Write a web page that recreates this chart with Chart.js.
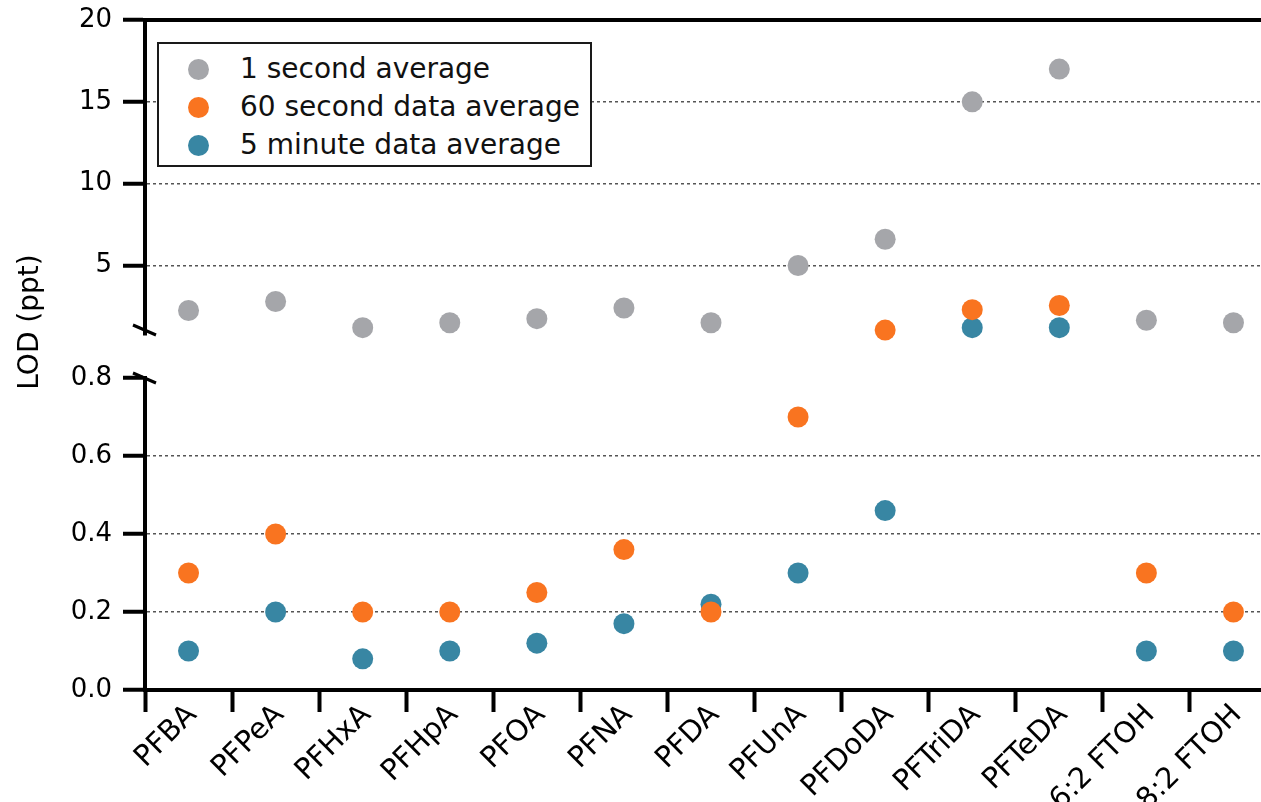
<!DOCTYPE html>
<html>
<head>
<meta charset="utf-8">
<title>LOD (ppt) by compound</title>
<script src="https://cdn.jsdelivr.net/npm/chart.js@4.4.1/dist/chart.umd.min.js"></script>
<style>
  html, body { margin: 0; padding: 0; background: #fff; overflow: hidden; }
  .wrap { position: relative; width: 1261px; height: 802px; overflow: hidden; }
  #lod-chart { position: absolute; left: 0; top: 0; }
  .legend {
    position: absolute; left: 157px; top: 42px; width: 431px; height: 121px;
    border: 2px solid #1a1a1a; background: #fff;
    font-family: 'DejaVu Sans', sans-serif; font-size: 28px; color: #111;
  }
  .legend-item { position: absolute; left: 0; height: 34px; line-height: 34px; white-space: nowrap; }
  .legend-item i { position: absolute; left: 29px; top: 6.5px; width: 21px; height: 21px; border-radius: 50%; }
  .legend-item span { position: absolute; left: 81px; top: 0; }
</style>
</head>
<body>
<div class="wrap">
  <canvas id="lod-chart" width="1277" height="802"></canvas>
  <div class="legend" id="legend"></div>
</div>
<script>
/*-------------------
 Data
 -------------------*/
const compounds = ['PFBA', 'PFPeA', 'PFHxA', 'PFHpA', 'PFOA', 'PFNA', 'PFDA', 'PFUnA', 'PFDoDA', 'PFTriDA', 'PFTeDA', '6:2 FTOH', '8:2 FTOH'];

// LOD in ppt
const oneSecond   = [2.25, 2.8, 1.2, 1.5, 1.75, 2.4, 1.5, 5.0, 6.6, 15.0, 17.0, 1.65, 1.5];
const sixtySecond = [0.30, 0.40, 0.20, 0.20, 0.25, 0.36, 0.20, 0.70, 1.05, 2.3, 2.55, 0.30, 0.20];
const fiveMinute  = [0.10, 0.20, 0.08, 0.10, 0.12, 0.17, 0.22, 0.30, 0.46, 1.2, 1.2, 0.10, 0.10];

const seriesNames = ['1 second average', '60 second data average', '5 minute data average'];

// tick labels for the two halves of the broken axis
const upperTicks = [5, 10, 15, 20];
const lowerTicks = [0, 0.2, 0.4, 0.6, 0.8];
const breakAt = 0.8;

/*-------------------
 Datasets
 -------------------*/
const series = [
  { label: seriesNames[0], values: oneSecond, color: '#a5a6aa' },
  { label: seriesNames[1], values: sixtySecond, color: '#f97420' },
  { label: seriesNames[2], values: fiveMinute, color: '#3886a3' }
];

// each series is split in two: values above the break go on the upper axis
const datasets = [];
series.forEach(s => {
  const common = {
    label: s.label,
    showLine: false,
    clip: false,
    pointRadius: 10.5,
    pointHoverRadius: 10.5,
    pointBorderWidth: 0,
    pointBackgroundColor: s.color,
    borderColor: s.color,
    backgroundColor: s.color
  };
  datasets.push({ ...common, yAxisID: 'yTop', data: s.values.map(v => v > breakAt ? v : null) });
  datasets.push({ ...common, yAxisID: 'yBot', data: s.values.map(v => v <= breakAt ? v : null) });
});

/*-------------------
 Chart
 -------------------*/
Chart.defaults.font.family = "'DejaVu Sans', sans-serif";
Chart.defaults.color = '#000';

const dotted = '#555';
const hidden = { display: false };

// little slashes where the y axis is broken
const axisBreaks = {
  id: 'axisBreaks',
  afterDraw(chart) {
    const { ctx, scales: { yTop, yBot } } = chart;
    const x = yTop.right;
    ctx.save();
    ctx.strokeStyle = '#000';
    ctx.lineWidth = 3;
    ctx.beginPath();
    ctx.moveTo(x - 12, yTop.bottom - 10);
    ctx.lineTo(x + 11, yTop.bottom);
    ctx.moveTo(x - 12, yBot.top - 5);
    ctx.lineTo(x + 11, yBot.top + 5);
    ctx.stroke();
    ctx.restore();
  }
};

const yGrid = (skip) => ({
  color: c => (c.tick && skip.includes(c.tick.value)) ? 'rgba(0,0,0,0)' : dotted,
  lineWidth: 1.5,
  tickLength: 22,
  tickWidth: 4,
  tickColor: '#000',
  tickBorderDash: []
});

// fixed box width, and no extra room asked for above/below the tick labels
const fitLeft = s => {
  s.width = 85;
  s.paddingTop = 0;
  s.paddingBottom = 0;
};

const lodChart = new Chart(document.getElementById('lod-chart'), {
  type: 'line',
  data: { labels: compounds, datasets: datasets },
  plugins: [axisBreaks],
  options: {
    responsive: false,
    animation: false,
    events: [],
    layout: { autoPadding: false, padding: { top: 20, left: 0, right: 0, bottom: 0 } },
    plugins: { legend: hidden, tooltip: { enabled: false } },
    scales: {
      x: {
        type: 'category',
        offset: true,
        grid: { offset: true, drawOnChartArea: false, tickLength: 22, tickWidth: 4, tickColor: '#000' },
        border: { width: 4, color: '#000' },
        ticks: { minRotation: 45, maxRotation: 45, autoSkip: false, padding: -14, labelOffset: 4, font: { size: 29 } },
        afterFit: s => { s.height = 112; }
      },
      xTop: {
        type: 'category',
        position: 'top',
        labels: compounds,
        grid: { display: false, drawTicks: false },
        border: { width: 4, color: '#000' },
        ticks: hidden
      },
      // left side, lower part first: stacked left boxes are laid out in reverse order
      yBot: {
        type: 'linear',
        position: 'left',
        stack: 'lod',
        stackWeight: 312,
        min: 0,
        max: 0.8,
        afterBuildTicks: s => { s.ticks = lowerTicks.map(v => ({ value: v })); },
        grid: yGrid([0, 0.8]),
        border: { width: 4, color: '#000', dash: [3, 3] },
        ticks: { padding: 11, font: { size: 26 }, callback: v => Number(v).toFixed(1) },
        afterFit: fitLeft
      },
      yGap: {
        type: 'linear',
        position: 'left',
        stack: 'lod',
        stackWeight: 43,
        grid: hidden,
        border: hidden,
        ticks: hidden
      },
      yTop: {
        type: 'linear',
        position: 'left',
        stack: 'lod',
        stackWeight: 315,
        min: 0.75,
        max: 20,
        afterBuildTicks: s => { s.ticks = upperTicks.map(v => ({ value: v })); },
        grid: yGrid([20]),
        border: { width: 4, color: '#000', dash: [3, 3] },
        ticks: { padding: 11, font: { size: 26 }, callback: v => v },
        afterFit: fitLeft
      },
      // axis title lives in its own stack so it sits a little above the middle
      yTitlePad: {
        type: 'linear',
        position: 'left',
        stack: 'ttl',
        stackWeight: 66,
        grid: hidden,
        border: hidden,
        ticks: hidden,
        afterFit: s => { s.width = 60; }
      },
      yTitle: {
        type: 'linear',
        position: 'left',
        stack: 'ttl',
        stackWeight: 604,
        grid: hidden,
        border: hidden,
        ticks: hidden,
        title: { display: true, text: 'LOD (ppt)', font: { size: 28 }, padding: { top: 14, bottom: 0 } },
        afterFit: s => { s.width = 60; }
      }
    }
  }
});

/*-------------------
 Legend
 -------------------*/
const legend = document.getElementById('legend');
legend.innerHTML = series.map((s, i) =>
  `<div class="legend-item" style="top:${8 + i * 38}px"><i style="background:${s.color}"></i><span>${s.label}</span></div>`
).join('');
</script>
</body>
</html>
